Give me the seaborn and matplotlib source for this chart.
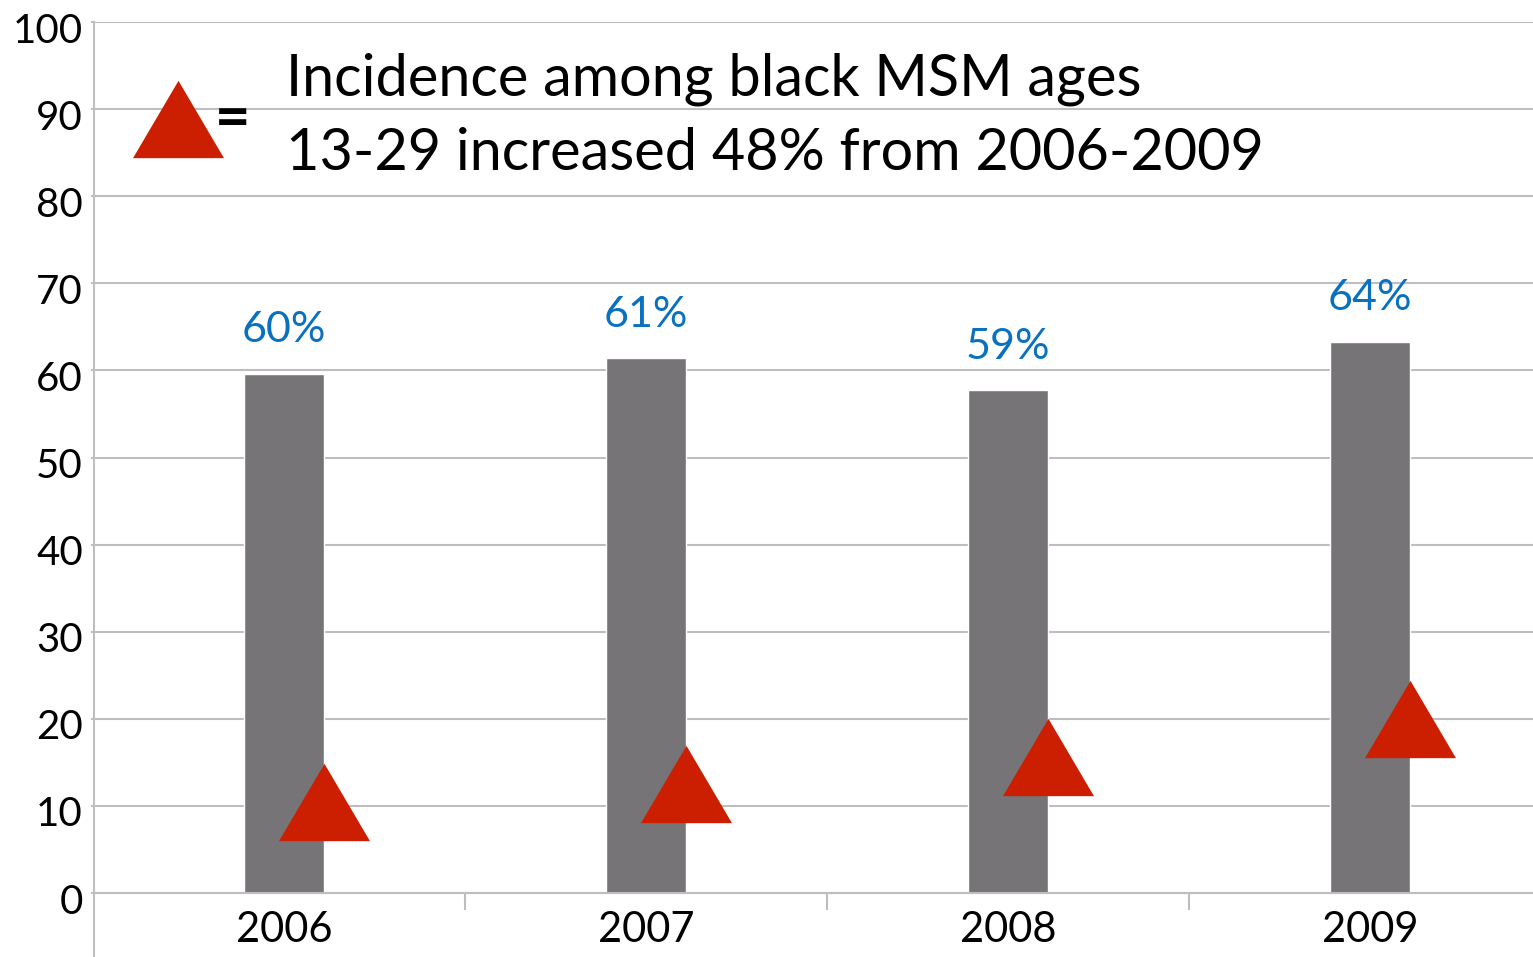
import numpy as np
import matplotlib
matplotlib.use("Agg")
import matplotlib.pyplot as plt
from matplotlib.markers import MarkerStyle
from matplotlib.ticker import FixedLocator
from matplotlib.transforms import ScaledTranslation
import seaborn as sns

# Data
years = ["2006", "2007", "2008", "2009"]
share_pct = [59.6, 61.4, 57.7, 63.3]          # gray bars
share_labels = ["60%", "61%", "59%", "64%"]
incidence = [10.5, 12.5, 15.6, 20.0]          # red triangles
title_lines = ["Incidence among black MSM ages",
               "13-29 increased 48% from 2006-2009"]

gray = "#767477"
red = "#CC1E00"
blue = "#0A70C0"
grid_c = "#BEBEBE"

sns.set_style("white")
plt.rcParams["font.family"] = ["Lato", "DejaVu Sans"]
plt.rcParams["text.color"] = "black"
plt.rcParams["xtick.labelcolor"] = "black"
plt.rcParams["ytick.labelcolor"] = "black"

fig = plt.figure(figsize=(15.33, 9.57), dpi=100)
W, H = 1533, 957
# axes: left spine at x=94px, top (100) at y=22px, bottom of figure
ax = fig.add_axes([94 / W, 0, 1 - 94 / W, 1 - 22 / H])

sns.barplot(x=years, y=share_pct, color=gray, width=0.22, saturation=1, ax=ax)

# flattened triangle marker (wider than tall)
tri = MarkerStyle([(-1, -0.85), (0, 0.85), (1, -0.85)])
ms = 91 * 0.72
sns.scatterplot(x=np.arange(len(years)) + 0.11, y=incidence, marker=tri,
                s=ms ** 2, color=red, linewidth=0, ax=ax, zorder=4, legend=False)

for i, (h, lab) in enumerate(zip(share_pct, share_labels)):
    ax.text(i, h + 5.0, lab, ha="center", va="center", color=blue, fontsize=31)

# axes limits so that 0 sits at y=893px
y_bottom = -(957 - 893) / 8.71
ax.set_ylim(y_bottom, 100)
ax.set_xlim(-0.525, 3.45)

ax.set_yticks(range(0, 101, 10))
ax.yaxis.grid(True, color=grid_c, linewidth=1.5)
ax.set_axisbelow(True)
ax.tick_params(axis="y", labelsize=29, length=2, width=1.5, color=grid_c, pad=6, left=True)
# labels sit a touch below their gridline in the reference
for lab in ax.get_yticklabels():
    lab.set_transform(lab.get_transform() + ScaledTranslation(0, -4 / 72, fig.dpi_scale_trans))

ax.spines["top"].set_visible(False)
ax.spines["right"].set_visible(False)
ax.spines["left"].set_color(grid_c)
ax.spines["left"].set_linewidth(1.5)
ax.spines["bottom"].set_position(("data", 0))
ax.spines["bottom"].set_color(grid_c)
ax.spines["bottom"].set_linewidth(1.5)

ax.set_xticks(range(len(years)))
ax.set_xticklabels(years)
ax.xaxis.set_minor_locator(FixedLocator([0.5, 1.5, 2.5]))
ax.tick_params(axis="x", which="major", length=0, labelsize=30, pad=13)
ax.tick_params(axis="x", which="minor", length=12.5, width=1.5, color=grid_c, bottom=True)
ax.set_xlabel("")
ax.set_ylabel("")

# legend-like annotation: triangle "=" text
ax.scatter([-0.293], [88.9], marker=tri, s=ms ** 2, color=red, linewidth=0,
           clip_on=False, zorder=4)
ax.text(-0.141, 88.9, "=", ha="center", va="center", fontsize=44, fontweight="bold")
ax.text(0.005, 91.6, title_lines[0], ha="left", va="baseline", fontsize=41.5)
ax.text(0.005, 83.0, title_lines[1], ha="left", va="baseline", fontsize=41.5)

fig.savefig("out.png", dpi=100)
plt.close(fig)
